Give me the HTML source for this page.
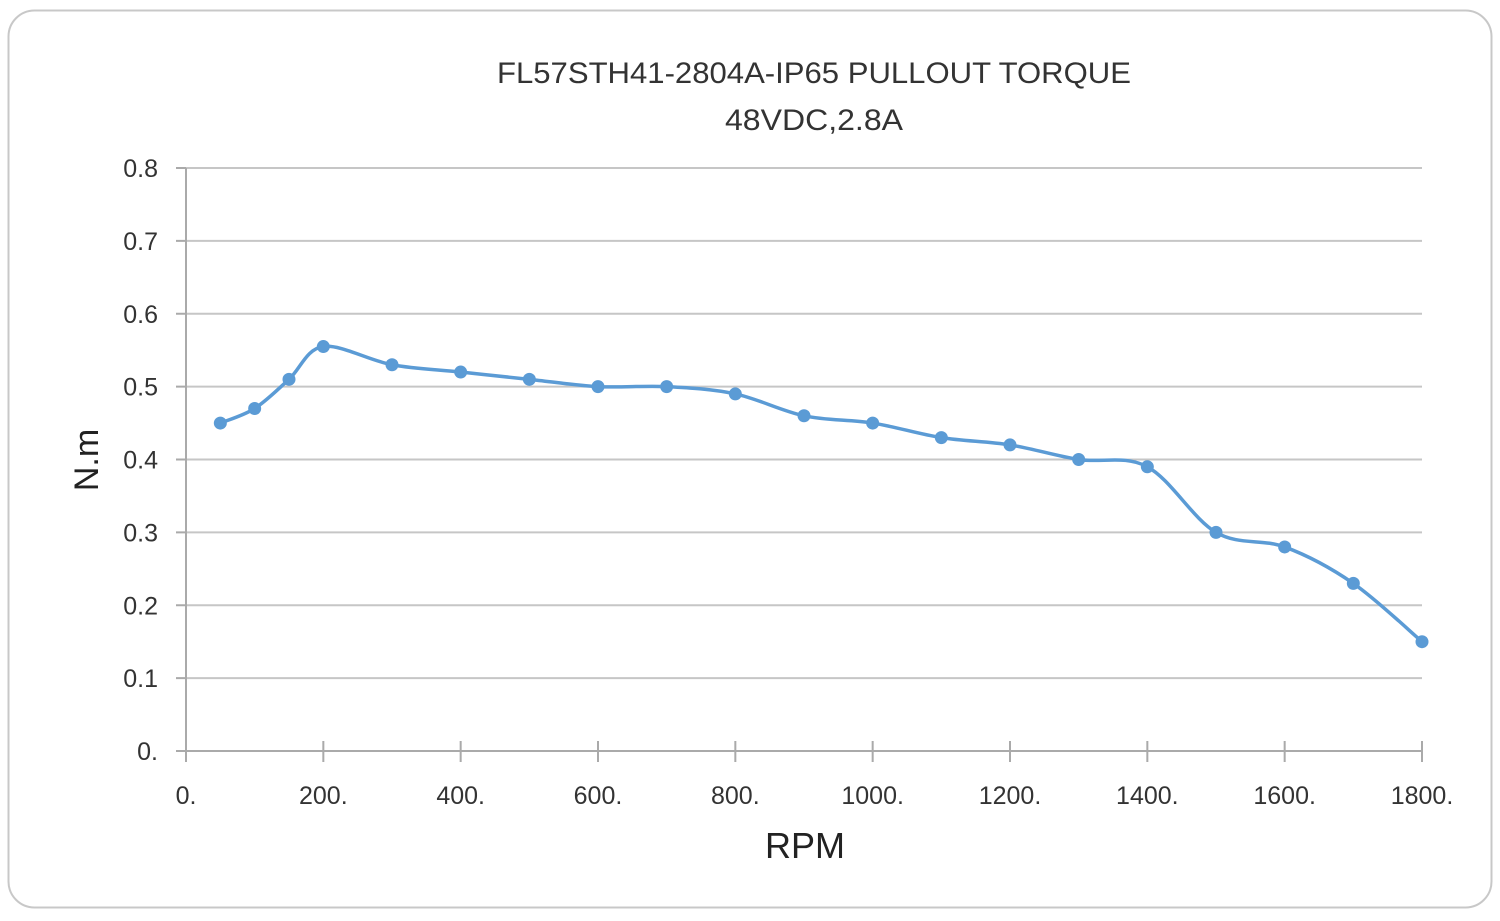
<!DOCTYPE html>
<html><head><meta charset="utf-8"><style>
html,body{margin:0;padding:0;background:#fff;}
svg{display:block;font-family:"Liberation Sans",sans-serif;}
</style></head><body>
<svg id="chart" width="1500" height="921" viewBox="0 0 1500 921">
<rect x="8.5" y="10.5" width="1483" height="897" rx="26" fill="#fff" stroke="#c8c8c8" stroke-width="2"/>
<text x="814" y="83" text-anchor="middle" font-size="30" fill="#333" textLength="634" lengthAdjust="spacingAndGlyphs">FL57STH41-2804A-IP65 PULLOUT TORQUE</text>
<text x="814" y="130" text-anchor="middle" font-size="30" fill="#333" textLength="178" lengthAdjust="spacingAndGlyphs">48VDC,2.8A</text>
<g id="grid"></g><g id="axes"></g><g id="series"></g>
<text x="805" y="858" text-anchor="middle" font-size="36" fill="#222">RPM</text>
<text transform="translate(98,460) rotate(-90)" text-anchor="middle" font-size="34" fill="#222">N.m</text>
</svg>
<script>
const rpm=[50,100,150,200,300,400,500,600,700,800,900,1000,1100,1200,1300,1400,1500,1600,1700,1800];
const torque=[0.45,0.47,0.51,0.555,0.53,0.52,0.51,0.50,0.50,0.49,0.46,0.45,0.43,0.42,0.40,0.39,0.30,0.28,0.23,0.15];
const xTicks=[0,200,400,600,800,1000,1200,1400,1600,1800];
const xTickLabels=["0.","200.","400.","600.","800.","1000.","1200.","1400.","1600.","1800."];
const yTicks=[0,0.1,0.2,0.3,0.4,0.5,0.6,0.7,0.8];
const yTickLabels=["0.","0.1","0.2","0.3","0.4","0.5","0.6","0.7","0.8"];
const X0=186,X1=1422,Y0=751,Y1=168,XMAX=1800,YMAX=0.8;
const sx=v=>X0+(X1-X0)*v/XMAX, sy=v=>Y0-(Y0-Y1)*v/YMAX;
const NS="http://www.w3.org/2000/svg";
function mk(t,a,p){const e=document.createElementNS(NS,t);for(const k in a)e.setAttribute(k,a[k]);p.appendChild(e);return e;}
const grid=document.getElementById('grid'),axes=document.getElementById('axes'),ser=document.getElementById('series');
yTicks.forEach((v,i)=>{
 if(v>0){const l=mk('line',{x1:X0,x2:X1,y1:sy(v),y2:sy(v),stroke:'#c6c6c6','stroke-width':2},grid);
 
 }
 const tk=mk('line',{x1:X0-10,x2:X0,y1:sy(v),y2:sy(v),stroke:'#aaa','stroke-width':2},axes);
 
 
 const t=mk('text',{x:158,y:sy(v)+9,'text-anchor':'end','font-size':25,fill:'#333'},axes);t.textContent=yTickLabels[i];
 
 
});
const ya=mk('line',{x1:X0,x2:X0,y1:Y1,y2:Y0+11,stroke:'#aaa','stroke-width':2},axes);


const xa=mk('line',{x1:X0-10,x2:X1,y1:Y0,y2:Y0,stroke:'#aaa','stroke-width':2},axes);


xTicks.forEach((v,i)=>{
 const tk=mk('line',{x1:sx(v),x2:sx(v),y1:Y0-10,y2:Y0+11,stroke:'#aaa','stroke-width':2},axes);
 
 
 const t=mk('text',{x:sx(v),y:804,'text-anchor':'middle','font-size':25,fill:'#333'},axes);t.textContent=xTickLabels[i];
 
 
});
const P=rpm.map((r,i)=>[sx(r),sy(torque[i])]);
let d='M'+P[0][0]+','+P[0][1];
for(let i=0;i<P.length-1;i++){
 const p0=P[i-1]||P[i],p1=P[i],p2=P[i+1],p3=P[i+2]||P[i+1],k=6;
 d+=' C'+(p1[0]+(p2[0]-p0[0])/k)+','+(p1[1]+(p2[1]-p0[1])/k)+' '+(p2[0]-(p3[0]-p1[0])/k)+','+(p2[1]-(p3[1]-p1[1])/k)+' '+p2[0]+','+p2[1];
}
const line=mk('path',{d:d,fill:'none',stroke:'#5b9bd5','stroke-width':3.5},ser);


P.forEach(p=>{const c=mk('circle',{cx:p[0],cy:p[1],r:6.5,fill:'#5b9bd5'},ser);
 
 });
</script>
</body></html>
